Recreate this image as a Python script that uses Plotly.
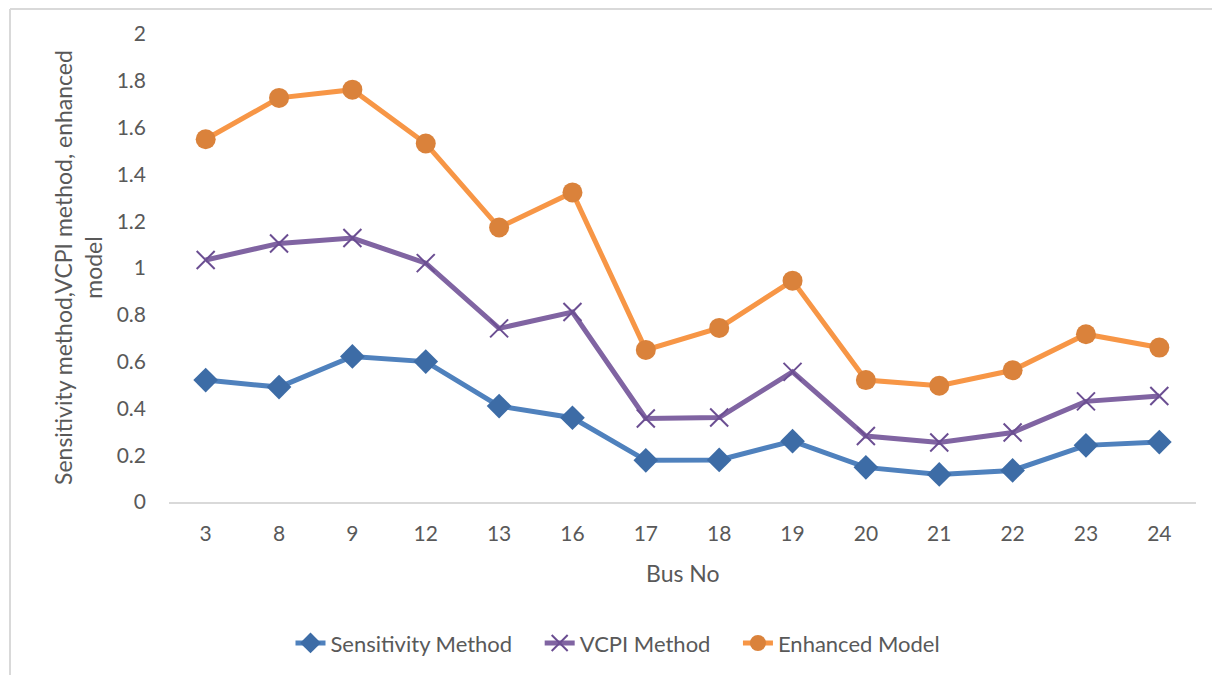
import plotly.graph_objects as go

bus_no = ["3", "8", "9", "12", "13", "16", "17", "18", "19", "20", "21", "22", "23", "24"]
sensitivity = [0.521, 0.491, 0.622, 0.600, 0.410, 0.360, 0.178, 0.180, 0.260, 0.148, 0.118, 0.135, 0.242, 0.256]
vcpi = [1.034, 1.105, 1.128, 1.021, 0.742, 0.812, 0.357, 0.361, 0.556, 0.282, 0.254, 0.297, 0.430, 0.453]
enhanced = [1.550, 1.727, 1.762, 1.532, 1.173, 1.323, 0.650, 0.744, 0.946, 0.521, 0.497, 0.563, 0.717, 0.660]
y_ticks = [0, 0.2, 0.4, 0.6, 0.8, 1.0, 1.2, 1.4, 1.6, 1.8, 2.0]
y_tick_labels = ["0", "0.2", "0.4", "0.6", "0.8", "1", "1.2", "1.4", "1.6", "1.8", "2"]

FONT = "Lato"
TXT = "#595959"
GAP = "\u00a0" * 4

fig = go.Figure()
fig.add_trace(go.Scatter(
    x=bus_no, y=sensitivity, name="Sensitivity Method" + GAP, mode="lines+markers",
    line=dict(color="#4F81BD", width=5),
    marker=dict(symbol="diamond", size=19, color="#3D6CA6"),
))
fig.add_trace(go.Scatter(
    x=bus_no, y=vcpi, name="VCPI Method" + GAP, mode="lines+markers",
    line=dict(color="#8064A2", width=5),
    marker=dict(symbol="x-thin", size=18, color="#7A5B9E", line=dict(color="#6B4E92", width=2)),
))
fig.add_trace(go.Scatter(
    x=bus_no, y=enhanced, name="Enhanced Model", mode="lines+markers",
    line=dict(color="#F79646", width=5),
    marker=dict(symbol="circle", size=20, color="#DA823B"),
))

fig.update_layout(
    width=1220, height=675,
    margin=dict(l=161, r=32, t=26, b=181),
    paper_bgcolor="white", plot_bgcolor="white",
    font=dict(family=FONT, color=TXT, size=21),
    showlegend=True,
    legend=dict(
        orientation="h", xref="container", yref="container",
        x=0.5, xanchor="center", y=0.059, yanchor="middle",
        font=dict(size=22, color=TXT), traceorder="normal",
    ),
    xaxis=dict(
        type="category", range=[-0.5, 13.5], showgrid=False, zeroline=False,
        showline=True, linecolor="#D9D9D9", linewidth=2,
        ticks="", tickfont=dict(size=21, color=TXT), ticklabelstandoff=12,
    ),
    yaxis=dict(
        range=[0, 2], tickvals=y_ticks, ticktext=y_tick_labels,
        showgrid=False, zeroline=False, showline=False,
        ticks="", tickfont=dict(size=21, color=TXT), ticklabelstandoff=22,
    ),
    annotations=[
        dict(text="Sensitivity method,VCPI method, enhanced<br>model",
             xref="paper", yref="paper", x=-0.0886, y=0.5,
             xanchor="center", yanchor="middle", textangle=-90, showarrow=False,
             font=dict(size=23, color=TXT, family=FONT)),
        dict(text="Bus No", xref="paper", yref="paper", x=0.5, y=-0.1517,
             xanchor="center", yanchor="middle", showarrow=False,
             font=dict(size=23, color=TXT, family=FONT)),
    ],
    shapes=[
        dict(type="line", xref="paper", yref="paper", x0=-0.1548, x1=1.2, y0=1.0534, y1=1.0534,
             line=dict(color="#D9D9D9", width=2)),
        dict(type="line", xref="paper", yref="paper", x0=-0.1548, x1=-0.1548, y0=-0.5, y1=1.0534,
             line=dict(color="#D9D9D9", width=2)),
    ],
)

fig.write_html("out.html")
